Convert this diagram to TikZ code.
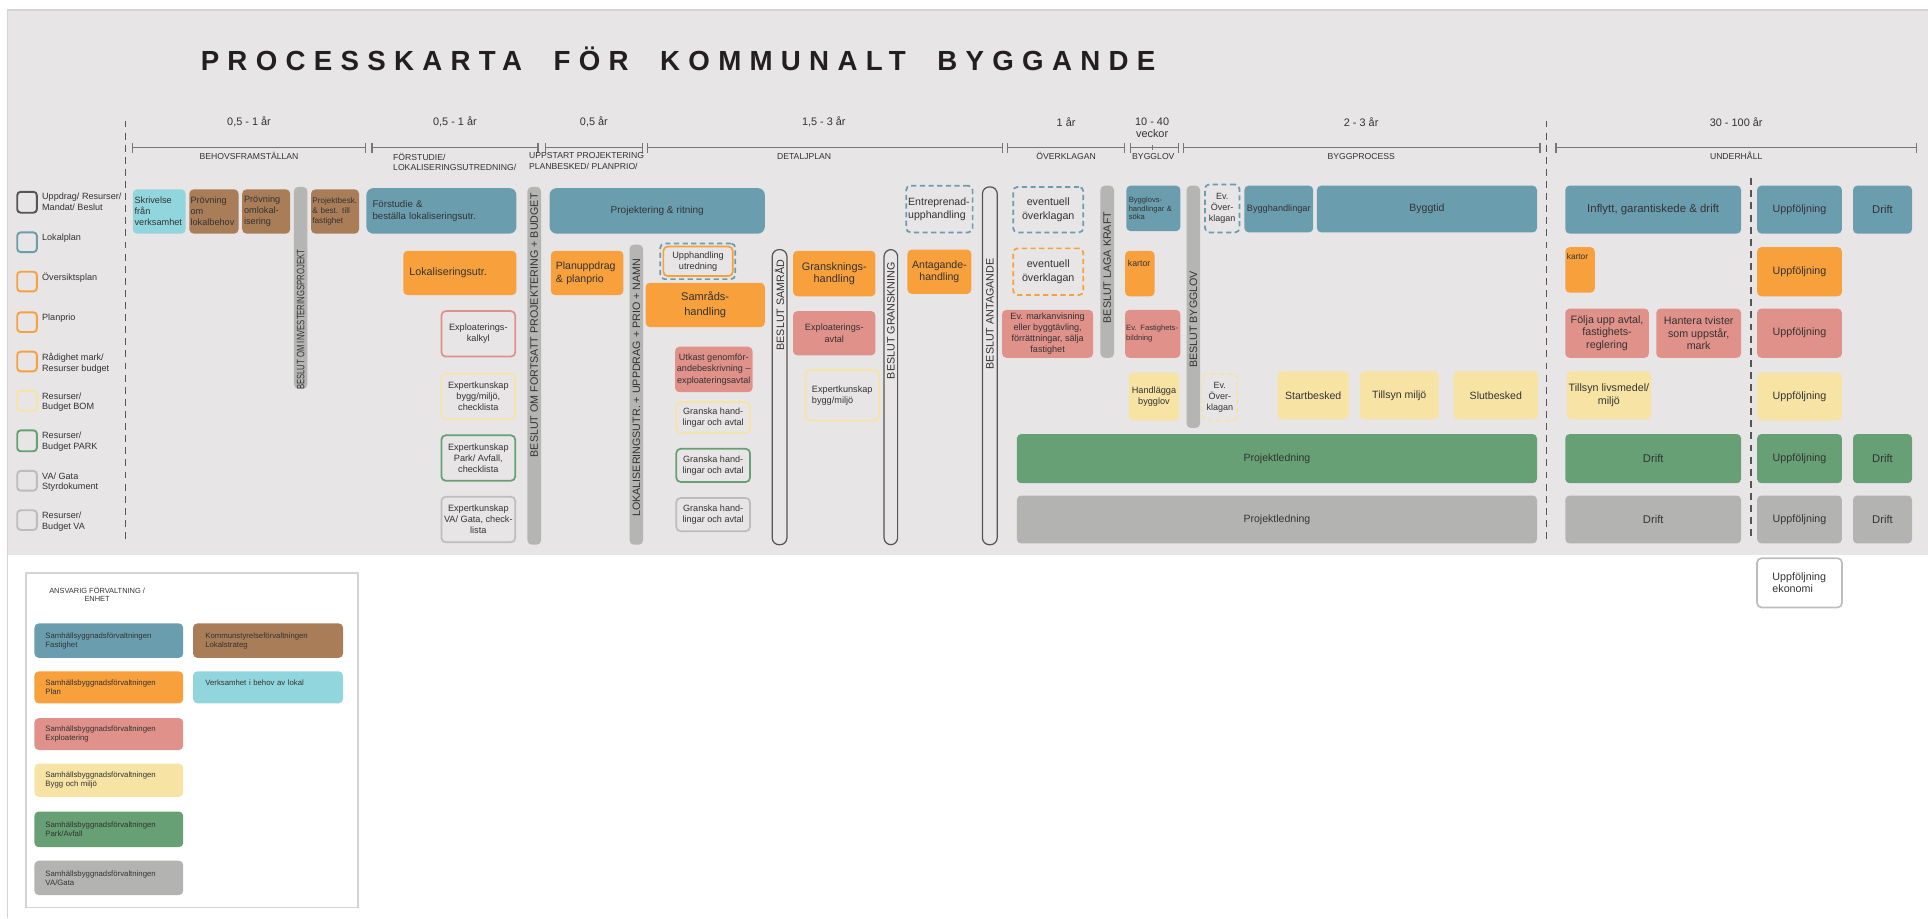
\documentclass[tikz,border=0pt]{standalone}
\usepackage{fontspec}
\setmainfont{Liberation Sans}
\usepackage{graphicx}
\usetikzlibrary{arrows.meta,calc,positioning}

\definecolor{bgc}{HTML}{E7E5E6}
\definecolor{edgec}{HTML}{D4D4D4}
\definecolor{cblue}{HTML}{6A9EAF}
\definecolor{cbrown}{HTML}{A97D57}
\definecolor{ccyan}{HTML}{92D6DD}
\definecolor{corange}{HTML}{F7A03C}
\definecolor{cred}{HTML}{E09189}
\definecolor{cyellow}{HTML}{F7E4A5}
\definecolor{cgreen}{HTML}{67A074}
\definecolor{cgray}{HTML}{B3B4B2}
\definecolor{clgray}{HTML}{BDBDBD}
\definecolor{barc}{HTML}{B5B5B3}
\definecolor{dgray}{HTML}{555555}
\definecolor{spanc}{HTML}{777777}
\definecolor{txt}{HTML}{333333}
\definecolor{ttl}{HTML}{231F20}

\newcommand{\fz}[2]{\fontsize{#1}{#2}\selectfont}
\newcommand{\procbox}[7][]{%
	\pgfmathsetmacro{\bw}{(#5-#3)*0.025}%
	\pgfmathsetmacro{\bh}{(#6-#4)*0.025}%
	\node[#1,minimum width=\bw cm,minimum height=\bh cm] (#2) at ({(#3+#5)/2},{(#4+#6)/2}) {#7};%
}

\begin{document}
\begin{tikzpicture}[x=0.025cm,y=-0.025cm,align=center,
		box/.style={rounded corners=2.5pt,inner sep=0.5pt,text=txt,font=\fz{6.1}{7.2}},
		blu/.style={box,fill=cblue},
		brn/.style={box,fill=cbrown},
		cya/.style={box,fill=ccyan},
		ora/.style={box,fill=corange},
		rdd/.style={box,fill=cred},
		yel/.style={box,fill=cyellow},
		grn/.style={box,fill=cgreen},
		gry/.style={box,fill=cgray},
		obox/.style={box,line width=1pt,draw=#1},
		dbox/.style={box,line width=1pt,draw=#1,dash pattern=on 3pt off 2pt},
		gbar/.style={rounded corners=2.5pt,fill=barc},
		obar/.style={rounded corners=4pt,draw=dgray,line width=0.7pt},
		btxt/.style={rotate=90,anchor=east,inner sep=0pt,text=txt,font=\fz{6.2}{7}},
		rkey/.style={rounded corners=2pt,line width=1.1pt,draw=#1},
		rlbl/.style={anchor=north west,inner sep=0pt,align=left,text=txt,font=\fz{5.25}{6.2}},
		span/.style={draw=spanc,line width=0.7pt,|-|},
		vsep/.style={draw=dgray,line width=0.7pt,dash pattern=on 4pt off 3pt},
		dur/.style={text=txt,inner sep=0pt,font=\fz{6.3}{7.1}},
		phase/.style={text=txt,inner sep=0pt,font=\fz{5}{6.2}},
		lgd/.style={box,inner sep=0pt,align=left,text width=2.575cm,font=\fz{4.5}{5.3}}]

	\useasboundingbox (0,0) rectangle (1568,746.6);
	\fill[bgc] (6,8) rectangle (1568,451);
	\draw[edgec,line width=1pt] (1568,8) -- (6,8) -- (6,746.6);

	\node[anchor=west,inner sep=0pt,text=ttl,font=\fz{16}{19}\bfseries\addfontfeature{LetterSpace=30}] (title) at (163,47.5) {PROCESSKARTA\hspace{9pt} FÖR\hspace{9pt} KOMMUNALT\hspace{9pt} BYGGANDE};

	\node[dur] (d_1) at (202.5,99) {0,5 - 1 år};
	\node[dur] (d_2) at (370,99) {0,5 - 1 år};
	\node[dur] (d_3) at (483,99) {0,5 år};
	\node[dur] (d_4) at (670,99) {1,5 - 3 år};
	\node[dur] (d_5) at (867,99) {1 år};
	\node[dur] (d_6) at (937,104) {10 - 40\\veckor};
	\node[dur] (d_7) at (1107,99) {2 - 3 år};
	\node[dur] (d_8) at (1412,99) {30 - 100 år};

	\draw[span] (107,120) -- (298,120);
	\draw[span] (302,120) -- (438,120);
	\draw[span] (443,120) -- (523,120);
	\draw[span] (526,120) -- (816,120);
	\draw[span] (819,120) -- (915,120);
	\draw[span] (919,120) -- (959,120);
	\draw[spanc,line width=0.7pt] (937,118) -- (937,122);
	\draw[span] (962,120) -- (1253,120);
	\draw[span] (1265,120) -- (1559,120);

	\node[phase] (ph_1) at (202.5,127) {BEHOVSFRAMSTÄLLAN};
	\node[phase,anchor=north west,align=left] (ph_2) at (319.5,124) {FÖRSTUDIE/\\LOKALISERINGSUTREDNING/};
	\node[phase,anchor=north west,align=left] (ph_3) at (430,124) {UPPSTART PROJEKTERING\\PLANBESKED/ PLANPRIO/};
	\node[phase] (ph_4) at (654,127) {DETALJPLAN};
	\node[phase] (ph_5) at (867,127) {ÖVERKLAGAN};
	\node[phase] (ph_6) at (938,127) {BYGGLOV};
	\node[phase] (ph_7) at (1107,127) {BYGGPROCESS};
	\node[phase] (ph_8) at (1412,127) {UNDERHÅLL};

	\draw[vsep] (102,98) -- (102,439);
	\draw[vsep] (1258,98) -- (1258,439);
	\draw[vsep] (1424,145) -- (1424,439);

	\procbox[rkey=dgray]{s_1}{14}{156}{30}{173}{}
	\procbox[rkey=cblue]{s_2}{14}{189}{30}{205}{}
	\procbox[rkey=corange]{s_3}{14}{221}{30}{237}{}
	\procbox[rkey=corange]{s_4}{14}{254}{30}{270}{}
	\procbox[rkey=corange]{s_5}{14}{286}{30}{302}{}
	\procbox[rkey=cyellow]{s_6}{14}{318}{30}{334}{}
	\procbox[rkey=cgreen]{s_7}{14}{350}{30}{367}{}
	\procbox[rkey=clgray]{s_8}{14}{383}{30}{399}{}
	\procbox[rkey=clgray]{s_9}{14}{415}{30}{431}{}
	\node[rlbl] (t_1) at (34,157) {Uppdrag/ Resurser/\\Mandat/ Beslut};
	\node[rlbl] (t_2) at (34,190) {Lokalplan};
	\node[rlbl] (t_3) at (34,222) {Översiktsplan};
	\node[rlbl] (t_4) at (34,255) {Planprio};
	\node[rlbl] (t_5) at (34,287) {Rådighet mark/\\Resurser budget};
	\node[rlbl] (t_6) at (34,319) {Resurser/\\Budget BOM};
	\node[rlbl] (t_7) at (34,351) {Resurser/\\Budget PARK};
	\node[rlbl] (t_8) at (34,384) {VA/ Gata\\Styrdokument};
	\node[rlbl] (t_9) at (34,416) {Resurser/\\Budget VA};

	\procbox[gbar]{bar_1}{239}{152}{250}{316}{}
	\procbox[gbar]{bar_2}{429}{152}{440}{443}{}
	\procbox[gbar]{bar_3}{512}{199}{523}{443}{}
	\procbox[obar]{bar_4}{628}{203}{640}{443}{}
	\procbox[obar]{bar_5}{719}{203}{730}{443}{}
	\procbox[obar]{bar_6}{799}{152}{811}{443}{}
	\procbox[gbar]{bar_7}{895}{151}{906}{291}{}
	\procbox[gbar]{bar_8}{965}{151}{976}{348}{}
	\node[btxt] (bt_1) at (244.5,203) {\scalebox{0.72}[1]{BESLUT OM INVESTERINGSPROJEKT}};
	\node[btxt] (bt_2) at (434.5,157) {BESLUT OM FORTSATT PROJEKTERING + BUDGET};
	\node[btxt] (bt_3) at (517.5,210) {LOKALISERINGSUTR. + UPPDRAG + PRIO + NAMN};
	\node[btxt] (bt_4) at (634,211) {BESLUT SAMRÅD};
	\node[btxt] (bt_5) at (724.5,213) {BESLUT GRANSKNING};
	\node[btxt] (bt_6) at (805,210) {BESLUT ANTAGANDE};
	\node[btxt] (bt_7) at (900.5,172) {BESLUT LAGA KRAFT};
	\node[btxt] (bt_8) at (970.5,220) {BESLUT BYGGLOV};

	\procbox[cya,font=\fz{5.3}{6.3},text width=1cm,align=left]{k_1}{108}{154}{151}{190}{Skrivelse\\från\\verksamhet}
	\procbox[brn,font=\fz{5.3}{6.3},text width=0.95cm,align=left]{k_2}{154}{154}{194}{190}{Prövning\\om\\lokalbehov}
	\procbox[brn,font=\fz{5.3}{6.3},text width=0.9cm,align=left]{k_3}{197}{154}{236}{190}{Prövning\\omlokal-\\isering}
	\procbox[brn,font=\fz{4.7}{5.9},text width=0.92cm,align=left]{k_4}{253}{154}{292}{190}{Projektbesk.\\\& best. till\\fastighet}
	\procbox[blu,rounded corners=4pt,font=\fz{5.6}{6.6},text width=2.8cm,align=left]{k_5}{298}{153}{420}{190}{Förstudie \&\\beställa lokaliseringsutr.}
	\procbox[blu,rounded corners=4pt,font=\fz{5.8}{7}]{k_6}{447}{153}{622}{190}{Projektering \& ritning}
	\procbox[dbox=cblue,text width=1.27cm,align=left,font=\fz{6.1}{7.7}]{k_7}{737}{151}{791}{189}{Entreprenad-\\upphandling}
	\procbox[dbox=cblue,font=\fz{6.2}{7.7}]{k_8}{824}{152}{881}{189}{eventuell\\överklagan}
	\procbox[blu,font=\fz{4.4}{5},text width=1cm,align=left]{k_9}{916}{151}{960}{188}{Bygglovs-\\handlingar \&\\söka}
	\procbox[dbox=cblue,font=\fz{5.2}{6.5}]{k_10}{980}{150}{1008}{189}{Ev.\\Över-\\klagan}
	\procbox[blu,font=\fz{5.3}{6.3}]{k_11}{1012}{151}{1068}{189}{Bygghandlingar}
	\procbox[blu]{k_12}{1071}{151}{1250}{189}{Byggtid}
	\procbox[blu,font=\fz{6.6}{7.6}]{k_13}{1273}{151}{1416}{190}{Inflytt, garantiskede \& drift}
	\procbox[blu,font=\fz{6.2}{7.2}]{k_14}{1429}{151}{1498}{190}{Uppföljning}
	\procbox[blu,font=\fz{6.5}{7.5}]{k_15}{1507}{151}{1555}{190}{Drift}

	\procbox[ora,font=\fz{6.2}{7.2},text width=2.05cm,align=left]{l_1}{328}{204}{420}{240}{Lokaliseringsutr.}
	\procbox[ora,font=\fz{6.1}{7.5},text width=1.275cm,align=left]{l_2}{448}{204}{507}{240}{Planuppdrag\\\& planprio}
	\procbox[dbox=cblue]{l_3}{537}{198}{598}{227}{}
	\procbox[obox=corange,font=\fz{5.3}{6.3}]{l_4}{539.5}{200.5}{596}{224.5}{Upphandling\\utredning}
	\procbox[ora,font=\fz{6.4}{8.7}]{l_5}{525}{230}{622}{266}{Samråds-\\handling}
	\procbox[ora,font=\fz{6.3}{7.1}]{l_6}{645}{204}{712}{241}{Gransknings-\\handling}
	\procbox[ora,font=\fz{6.1}{7.1}]{l_7}{738}{203}{790}{239}{Antagande-\\handling}
	\procbox[dbox=corange,font=\fz{6.2}{7.7}]{l_8}{824}{202}{881}{240}{eventuell\\överklagan}
	\procbox[ora]{l_9}{915}{204}{939}{241}{}
	\node[anchor=north west,inner sep=0pt,text=txt,font=\fz{5.1}{6}] (l_9t) at (917,211) {kartor};
	\procbox[ora]{l_10}{1273}{201}{1297}{238}{}
	\node[anchor=north west,inner sep=0pt,text=txt,font=\fz{4.8}{6}] (l_10t) at (1274,206) {kartor};
	\procbox[ora,font=\fz{6.2}{7.2}]{l_11}{1429}{201}{1498}{241}{Uppföljning}

	\procbox[obox=cred,font=\fz{5.3}{6.5}]{m_1}{359}{253}{419}{290}{Exploaterings-\\kalkyl}
	\procbox[rdd,font=\fz{5.25}{6.5}]{m_2}{549}{282}{612}{319}{Utkast genomför-\\andebeskrivning –\\exploateringsavtal}
	\procbox[rdd,font=\fz{5.3}{6.7}]{m_3}{645}{253}{712}{289}{Exploaterings-\\avtal}
	\procbox[rdd,font=\fz{5.25}{6.4}]{m_4}{815}{252}{889}{291}{Ev. markanvisning\\eller byggtävling,\\förrättningar, sälja\\fastighet}
	\procbox[rdd,font=\fz{4.4}{6},text width=1.08cm,align=left]{m_5}{915}{252}{960}{291}{Ev. Fastighets-\\bildning}
	\procbox[rdd,font=\fz{6.2}{7.4}]{m_6}{1273}{251}{1341}{291}{Följa upp avtal,\\fastighets-\\reglering}
	\procbox[rdd,font=\fz{6.2}{7.4}]{m_7}{1347}{251}{1416}{291}{Hantera tvister\\som uppstår,\\mark}
	\procbox[rdd,font=\fz{6.2}{7.2}]{m_8}{1429}{251}{1498}{291}{Uppföljning}

	\procbox[obox=cyellow,font=\fz{5.3}{6.3}]{o_1}{359}{304}{419}{341}{Expertkunskap\\bygg/miljö,\\checklista}
	\procbox[obox=cyellow,font=\fz{5.25}{6.4}]{o_2}{550}{327}{610}{352}{Granska hand-\\lingar och avtal}
	\procbox[obox=cyellow,font=\fz{5.3}{6.3},align=left]{o_3}{655}{301}{715}{342}{Expertkunskap\\bygg/miljö}
	\procbox[yel,font=\fz{5.3}{6.6}]{o_4}{918}{303}{959}{342}{Handlägga\\bygglov}
	\procbox[dbox=cyellow,font=\fz{5.2}{6.5}]{o_5}{978}{304}{1006}{342}{Ev.\\Över-\\klagan}
	\procbox[yel]{o_6}{1039}{302}{1097}{341}{Startbesked}
	\procbox[yel]{o_7}{1106}{302}{1170}{341}{Tillsyn miljö}
	\procbox[yel]{o_8}{1182}{302}{1251}{341}{Slutbesked}
	\procbox[yel,font=\fz{6.2}{7.4}]{o_9}{1274}{302}{1343}{341}{Tillsyn livsmedel/\\miljö}
	\procbox[yel,font=\fz{6.2}{7.2}]{o_10}{1429}{303}{1498}{342}{Uppföljning}

	\procbox[obox=cgreen,font=\fz{5.3}{6.3}]{p_1}{359}{354}{419}{391}{Expertkunskap\\Park/ Avfall,\\checklista}
	\procbox[obox=cgreen,font=\fz{5.25}{6.4}]{p_2}{550}{365}{610}{392}{Granska hand-\\lingar och avtal}
	\procbox[grn]{p_3}{827}{353}{1250}{393}{Projektledning}
	\procbox[grn,font=\fz{6.5}{7.5}]{p_4}{1273}{353}{1416}{393}{Drift}
	\procbox[grn,font=\fz{6.2}{7.2}]{p_5}{1429}{353}{1498}{393}{Uppföljning}
	\procbox[grn,font=\fz{6.5}{7.5}]{p_6}{1507}{353}{1555}{393}{Drift}

	\procbox[obox=clgray,font=\fz{5.3}{6.3}]{q_1}{359}{404}{419}{441}{Expertkunskap\\VA/ Gata, check-\\lista}
	\procbox[obox=clgray,font=\fz{5.25}{6.4}]{q_2}{550}{405}{610}{432}{Granska hand-\\lingar och avtal}
	\procbox[gry]{q_3}{827}{403}{1250}{442}{Projektledning}
	\procbox[gry,font=\fz{6.5}{7.5}]{q_4}{1273}{403}{1416}{442}{Drift}
	\procbox[gry,font=\fz{6.2}{7.2}]{q_5}{1429}{403}{1498}{442}{Uppföljning}
	\procbox[gry,font=\fz{6.5}{7.5}]{q_6}{1507}{403}{1555}{442}{Drift}

	\procbox[obox=clgray,fill=white,font=\fz{6.2}{7.1},text width=1.1cm,align=left]{u_1}{1429}{454}{1498}{494}{Uppföljning\\ekonomi}

	\procbox[draw=edgec,fill=white,line width=1pt]{g_0}{21}{466}{291}{738}{}
	\node[text=txt,inner sep=0pt,font=\fz{4.3}{5}] (g_t) at (79,483.5) {ANSVARIG FÖRVALTNING /\\ENHET};
	\procbox[lgd,fill=cblue]{g_1}{28}{507}{149}{535}{Samhällsyggnadsförvaltningen\\Fastighet}
	\procbox[lgd,fill=cbrown,text width=2.55cm]{g_2}{157}{507}{279}{535}{Kommunstyrelseförvaltningen\\Lokalstrateg}
	\procbox[lgd,fill=corange]{g_3}{28}{546}{149}{572}{Samhällsbyggnadsförvaltningen\\Plan}
	\procbox[lgd,fill=ccyan,text width=2.55cm]{g_4}{157}{546}{279}{572}{Verksamhet i behov av lokal\\~}
	\procbox[lgd,fill=cred]{g_5}{28}{584}{149}{610}{Samhällsbyggnadsförvaltningen\\Exploatering}
	\procbox[lgd,fill=cyellow]{g_6}{28}{621}{149}{648}{Samhällsbyggnadsförvaltningen\\Bygg och miljö}
	\procbox[lgd,fill=cgreen]{g_7}{28}{660}{149}{689}{Samhällsbyggnadsförvaltningen\\Park/Avfall}
	\procbox[lgd,fill=cgray]{g_8}{28}{700}{149}{728}{Samhällsbyggnadsförvaltningen\\VA/Gata}
\end{tikzpicture}
\end{document}
